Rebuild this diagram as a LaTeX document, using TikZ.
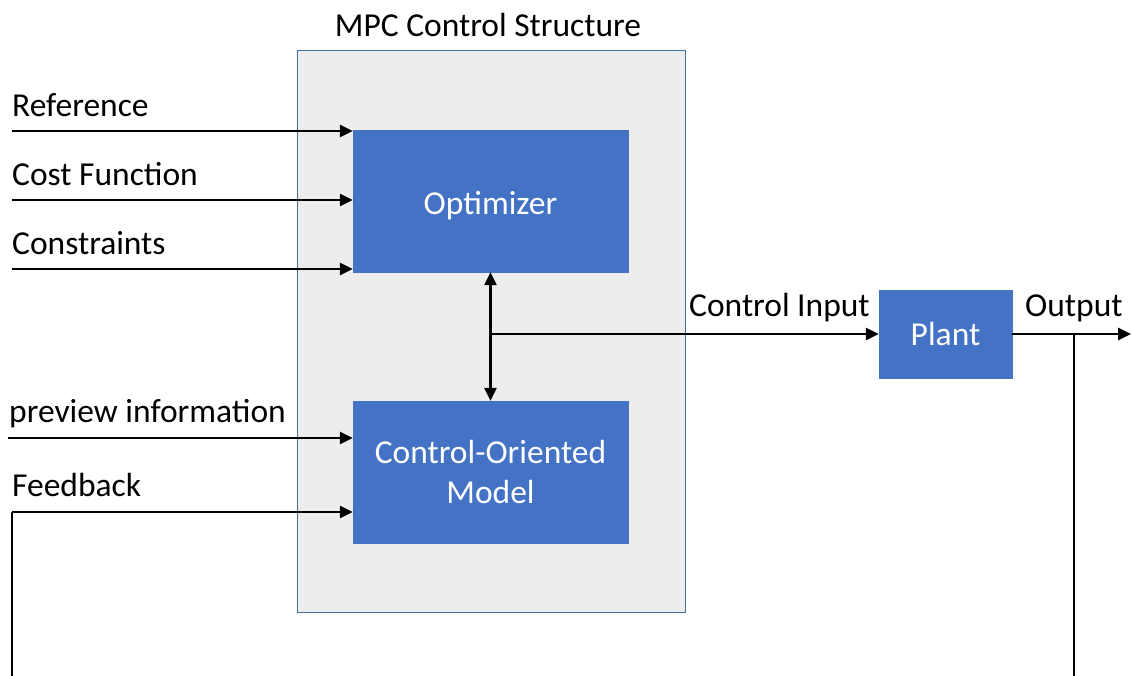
\documentclass[tikz,border=0pt]{standalone}
\usepackage{fontspec}
\setmainfont{Carlito}
\usetikzlibrary{arrows.meta}
\definecolor{boxblue}{HTML}{4472C4}
\definecolor{panelgray}{HTML}{EDEDED}
\definecolor{panelborder}{HTML}{41719C}
\tikzset{
  x=1pt, y=-1pt,
  blk/.style={draw=boxblue, fill=boxblue, text=white, inner sep=0pt, align=center},
  lbl/.style={inner sep=0pt, anchor=base west, text=black},
  conn/.style={line width=2.8pt, -{Triangle[length=13pt,width=12pt]}},
  plainconn/.style={line width=2.8pt},
  every node/.append style={font=\fontsize{33.5}{40}\selectfont}
}
\begin{document}
\begin{tikzpicture}
\useasboundingbox (0,0) rectangle (1131,675);
% panel
\node[draw=panelborder, fill=panelgray, line width=1pt, minimum width=388pt, minimum height=562pt, anchor=north west, inner sep=0pt] (panel) at (297,50) {};
\node[inner sep=0pt, anchor=base] (title) at (488,36) {MPC Control Structure};
% blocks
\node[blk, minimum width=275pt, minimum height=142pt] (opt) at (490.5,201) {};
\node[inner sep=0pt, text=white, anchor=base] (optlbl) at (490.5,214) {Optimizer};
\node[blk, minimum width=275pt, minimum height=142pt] (com) at (490.5,472) {Control-Oriented\\Model};
\node[blk, minimum width=133pt, minimum height=88pt] (plant) at (945.5,334) {Plant};
% input labels
\node[lbl] (lref) at (12,116) {Reference};
\node[lbl] (lcost) at (12,185) {Cost Function};
\node[lbl] (lcons) at (12,254) {Constraints};
\node[lbl] (lprev) at (9,422) {preview information};
\node[lbl] (lfb) at (12,496) {Feedback};
\node[lbl] (lci) at (689,316) {Control Input};
\node[lbl] (lout) at (1025,316) {Output};
% coordinates
\coordinate (sref) at (12,131);
\coordinate (scost) at (12,200);
\coordinate (scons) at (12,269);
\coordinate (sprev) at (8,438);
\coordinate (fbtop) at (12,512);
\coordinate (fbbot) at (12,676);
\coordinate (junc) at (490.5,334);
\coordinate (oend) at (1131,334);
\coordinate (otap) at (1074,334);
\coordinate (obot) at (1074,676);
% arrows
\draw[conn] (sref) -- (sref -| opt.west);
\draw[conn] (scost) -- (scost -| opt.west);
\draw[conn] (scons) -- (scons -| opt.west);
\draw[conn] (sprev) -- (sprev -| com.west);
\draw[plainconn] (fbbot) -- (fbtop);
\draw[conn] (fbtop) -- (fbtop -| com.west);
\draw[line width=2.8pt, {Triangle[length=13pt,width=12pt]}-{Triangle[length=13pt,width=12pt]}] (opt.south) -- (com.north);
\draw[conn] (junc) -- (plant.west);
\draw[conn] (plant.east) -- (oend);
\draw[plainconn] (otap) -- (obot);
\end{tikzpicture}
\end{document}
